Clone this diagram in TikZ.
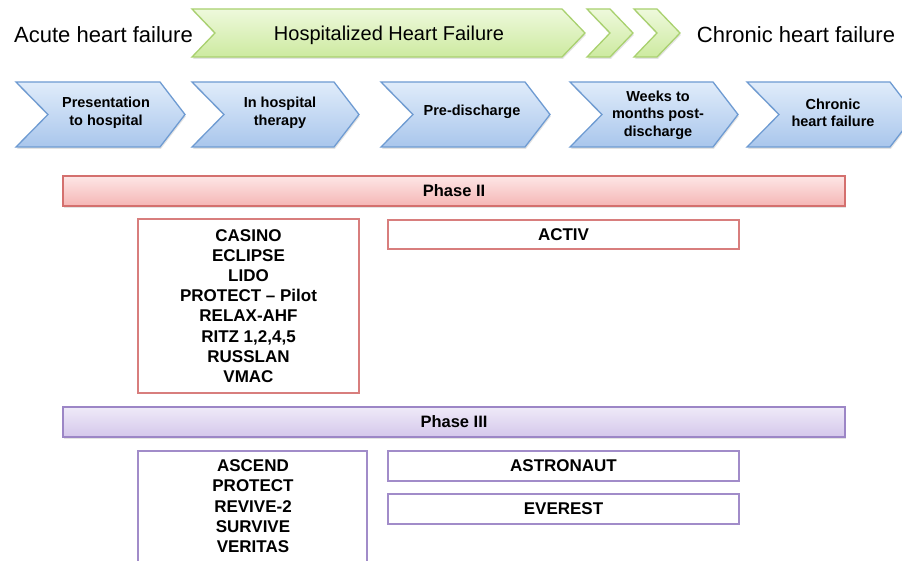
\documentclass[tikz,border=0pt]{standalone}
\usepackage{fontspec}
\setmainfont{Liberation Sans}
\usetikzlibrary{shadows}
\definecolor{grnT}{HTML}{EEF9DC}
\definecolor{grnB}{HTML}{CDEAA0}
\definecolor{grnL}{HTML}{A9D16F}
\definecolor{bluT}{HTML}{E0ECFA}
\definecolor{bluB}{HTML}{A9C6EC}
\definecolor{bluL}{HTML}{6E9BD2}
\definecolor{redT}{HTML}{FDE6E6}
\definecolor{redB}{HTML}{F5B6B5}
\definecolor{redL}{HTML}{D4706E}
\definecolor{purT}{HTML}{EFEAF8}
\definecolor{purB}{HTML}{D4C7EB}
\definecolor{purL}{HTML}{9C86C6}
\newcommand\mychev[7]{% style, left x, top y, width, height, notch, tip
  \path[#1] (#2,#3) -- ++(#4-#7,0) -- ++(#7,#5/2) -- ++(-#7,#5/2) -- ++(-#4+#7,0) -- ++(#6,-#5/2) -- cycle;}
\tikzset{
  shd/.style={drop shadow={shadow xshift=0.8pt,shadow yshift=-2pt,opacity=.22}},
  grnshape/.style={shd,draw=grnL,line width=1.3pt,top color=grnT,bottom color=grnB},
  blushape/.style={shd,draw=bluL,line width=1.3pt,top color=bluT,bottom color=bluB},
  hdr/.style={font=\fontsize{22}{26}\selectfont,inner sep=0pt},
  stagetxt/.style={font=\fontsize{14.5}{17.5}\selectfont\bfseries,align=center,inner sep=0pt},
  bar/.style={shd,line width=1.4pt,minimum height=30pt,minimum width=782pt,inner sep=0pt,font=\fontsize{16.5}{20}\selectfont\bfseries},
  redbar/.style={bar,draw=redL,top color=redT,bottom color=redB},
  purbar/.style={bar,draw=purL,top color=purT,bottom color=purB},
  lbox/.style={line width=1.6pt,fill=white,inner sep=0pt,align=center,font=\fontsize{17}{20.2}\selectfont\bfseries},
  redbox/.style={lbox,draw=redL!90},
  purbox/.style={lbox,draw=purL!95},
}
\begin{document}
\begin{tikzpicture}[x=1pt,y=-1pt]
\path[use as bounding box,fill=white] (0,0) rectangle (902,561);
\clip (0,0) rectangle (902,561);
% top green arrows
\mychev{grnshape}{192}{9}{393}{48}{23}{23}
\mychev{grnshape}{587}{9}{46}{48}{23}{23}
\mychev{grnshape}{634}{9}{46}{48}{23}{23}
\node[hdr,anchor=base] (acute) at (103.5,43) {Acute heart failure};
\node[hdr,anchor=base,font=\fontsize{20}{24}\selectfont] (hosp) at (389,41) {Hospitalized Heart Failure};
\node[hdr,anchor=base] (chronic) at (796,43) {Chronic heart failure};
% blue stages
\mychev{blushape}{16}{82}{169}{65}{32}{25}
\mychev{blushape}{192}{82}{167}{65}{32}{25}
\mychev{blushape}{381}{82}{169}{65}{32}{25}
\mychev{blushape}{570}{82}{168}{65}{32}{25}
\mychev{blushape}{747}{82}{168}{65}{32}{25}
\node[stagetxt] (s1) at (106,113) {Presentation\\to hospital};
\node[stagetxt] (s2) at (280,113) {In hospital\\therapy};
\node[stagetxt] (s3) at (472,112) {Pre-discharge};
\node[stagetxt] (s4) at (658,115) {Weeks to\\months post-\\discharge};
\node[stagetxt] (s5) at (833,113) {Chronic\\heart failure};
% phase II
\node[redbar] (p2) at (454,191) {Phase II};
\node[redbox,minimum width=221pt,minimum height=174pt] (p2list) at (248.5,306)
  {CASINO\\ECLIPSE\\LIDO\\PROTECT -- Pilot\\RELAX-AHF\\RITZ 1,2,4,5\\RUSSLAN\\VMAC};
\node[redbox,minimum width=351pt,minimum height=29pt] (activ) at (563.5,234.5) {ACTIV};
% phase III
\node[purbar] (p3) at (454,422) {Phase III};
\draw[line width=1.6pt,draw=purL!95,fill=white] (138,451) rectangle (367,600);
\node[lbox,anchor=north] (p3list) at (253,459) {ASCEND\\PROTECT\\REVIVE-2\\SURVIVE\\VERITAS};
\node[purbox,minimum width=351pt,minimum height=30pt] (astro) at (563.5,466) {ASTRONAUT};
\node[purbox,minimum width=351pt,minimum height=30pt] (ever) at (563.5,509) {EVEREST};
\end{tikzpicture}
\end{document}
